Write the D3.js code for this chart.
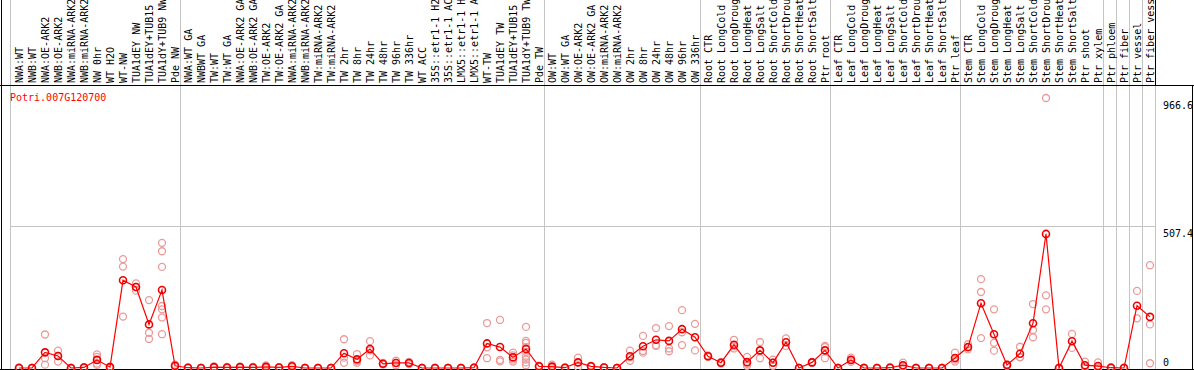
<!DOCTYPE html>
<html>
<head>
<meta charset="utf-8">
<script src="https://cdn.jsdelivr.net/npm/d3@7"></script>
<style>
  body { margin: 0; background: #fff; }
  svg { display: block; }
  text { font-family: "DejaVu Sans Mono", monospace; font-size: 10px; }
</style>
</head>
<body>
<svg width="1194" height="370"></svg>
<script>
// sample names, in plot order
let samples = ["NWA:WT", "NWB:WT", "NWA:OE-ARK2", "NWB:OE-ARK2", "NWA:miRNA-ARK2", "NWB:miRNA-ARK2", "NW 0hr", "WT H2O", "WT-NW", "TUA1dEY NW", "TUA1dEY+TUB15 NW", "TUA1dY+TUB9 NW", "Pde NW",
  "NWA:WT GA", "NWBWT GA", "TW:WT", "TW:WT GA", "NWA:OE-ARK2 GA", "NWB:OE-ARK2 GA", "TW:OE-ARK2", "TW:OE-ARK2 GA", "NWA:miRNA-ARK2 GA", "NWB:miRNA-ARK2 GA", "TW:miRNA-ARK2", "TW:miRNA-ARK2 GA", "TW 2hr", "TW 8hr", "TW 24hr", "TW 48hr", "TW 96hr", "TW 336hr", "WT ACC", "35S::etr1-1 H2O", "35S::etr1-1 ACC", "LMX5::etr1-1 H2O", "LMX5::etr1-1 ACC", "WT-TW", "TUA1dEY TW", "TUA1dEY+TUB15 TW", "TUA1dY+TUB9 TW", "Pde TW",
  "OW:WT", "OW:WT GA", "OW:OE-ARK2", "OW:OE-ARK2 GA", "OW:miRNA-ARK2", "OW:miRNA-ARK2 GA", "OW 2hr", "OW 8hr", "OW 24hr", "OW 48hr", "OW 96hr", "OW 336hr",
  "Root CTR", "Root LongCold", "Root LongDrought", "Root LongHeat", "Root LongSalt", "Root ShortCold", "Root ShortDrought", "Root ShortHeat", "Root ShortSalt", "Ptr root",
  "Leaf CTR", "Leaf LongCold", "Leaf LongDrought", "Leaf LongHeat", "Leaf LongSalt", "Leaf ShortCold", "Leaf ShortDrought", "Leaf ShortHeat", "Leaf ShortSalt", "Ptr leaf",
  "Stem CTR", "Stem LongCold", "Stem LongDrought", "Stem LongHeat", "Stem LongSalt", "Stem ShortCold", "Stem ShortDrought", "Stem ShortHeat", "Stem ShortSalt", "Ptr shoot", "Ptr xylem",
  "Ptr phloem", "Ptr fiber", "Ptr vessel", "Ptr fiber vessel"];

// last sample of each experiment block (separator drawn after it)
let groupEnds = ["Pde NW", "Pde TW", "OW 336hr", "Ptr root", "Ptr leaf", "Ptr xylem", "Ptr phloem", "Ptr fiber", "Ptr vessel", "Ptr fiber vessel"];

let gene = "Potri.007G120700";

// mean expression per sample
let means = [0, 0, 56, 43, 0, 2, 29, 3, 314, 290, 156, 279, 8,
  1, 0, 3, 2, 3, 2, 4, 2, 6, 0, 0, 0, 53, 31, 68, 15, 18, 18, 0, 0, 0, 0, 1, 88, 75, 38, 68, 6,
  5, 1, 20, 6, 2, 0, 42, 78, 101, 97, 139, 110,
  42, 19, 83, 21, 63, 19, 92, 0, 20, 63,
  0, 29, 0, 0, 1, 10, 0, 0, 0, 36,
  75, 232, 121, 11, 51, 160, 480, 0, 96, 10, 7,
  1, 0, 223, 183];

// individual replicates per sample
let replicates = [[0, 2, 0], [0, 0, 0], [120, 35, 12], [62, 43, 23], [0, 0, 0], [4, 1, 0], [49, 40, 11, 16], [5, 3, 1], [390, 363, 184], [303, 277, 290], [243, 126, 104], [448, 418, 362, 222, 210, 181, 121], [12, 8, 4],
  [2, 1, 0], [0, 0, 0], [6, 2, 1], [4, 2, 0], [5, 3, 1], [4, 2, 0], [9, 3, 0], [3, 2, 1], [10, 6, 2], [0, 0, 0], [0, 0, 0], [0, 0, 0], [103, 37, 19], [50, 24, 19], [96, 63, 45], [18, 15, 12], [26, 18, 10], [22, 18, 14], [0, 0, 0], [0, 0, 0], [0, 0, 0], [0, 0, 0], [2, 1, 0], [161, 74, 35], [172, 29, 24], [55, 45, 30, 23], [147, 97, 90, 75, 58, 40, 30, 20, 10], [8, 6, 4],
  [12, 3, 0], [2, 1, 0], [37, 20, 3], [8, 6, 4], [3, 2, 1], [0, 0, 0], [62, 38, 26], [115, 61, 55], [143, 81, 79], [150, 70, 60], [207, 128, 82], [158, 63],
  [45, 42, 40], [22, 19, 16], [101, 78, 70], [40, 15, 8], [93, 61, 35], [30, 19, 8], [106, 79], [0, 0, 0], [22, 20, 18], [79, 75, 35],
  [0, 0, 0], [37, 29, 22], [1, 0, 0], [0, 0, 0], [3, 1, 0], [19, 8, 3], [0, 0, 0], [0, 0, 0], [0, 0, 0], [55, 30, 23],
  [85, 73, 67], [318, 272, 107], [210, 90, 62], [14, 11, 8], [76, 39, 38], [229, 136, 110], [966.6, 260, 210], [0, 0, 0], [122, 72], [23, 5, 2], [20, 1, 0],
  [3, 1, 0], [1, 0, 0], [276, 178], [368, 156, 17]];

let yTicks = [966.6, 507.4, 0];
let gridTicks = [507.4];

let svg = d3.select("svg");
let W = 1194, H = 370;
let labelBottom = 85;

let x = d3.scalePoint().domain(samples).range([19, 1150]);
let y = d3.scaleLinear().domain([0, 966.6]).range([368, 98]);
let plotRight = x(samples[samples.length - 1]) + 5;

// separators between sample blocks
let seps = [x(samples[0]) - 9].concat(groupEnds.map(d => x(d) + 5));
svg.append("g").selectAll("line").data(seps).join("line")
  .attr("x1", d => Math.round(d) + 0.5).attr("x2", d => Math.round(d) + 0.5)
  .attr("y1", 0).attr("y2", H)
  .attr("stroke", "#c4c4c4").attr("stroke-width", 1);

// horizontal grid
svg.append("g").selectAll("line").data(gridTicks).join("line")
  .attr("x1", seps[0]).attr("x2", plotRight)
  .attr("y1", d => Math.round(y(d)) + 0.5).attr("y2", d => Math.round(y(d)) + 0.5)
  .attr("stroke", "#c4c4c4");

// sample labels, rotated
svg.append("g").selectAll("text").data(samples).join("text")
  .attr("transform", d => "translate(" + (x(d) + 3.5) + "," + (labelBottom - 2) + ") rotate(-90)")
  .attr("fill", "#000")
  .text(d => d);

// frame
let frame = svg.append("g").attr("stroke", "#000").attr("stroke-width", 1);
frame.append("line").attr("x1", 0).attr("x2", W).attr("y1", labelBottom + 0.5).attr("y2", labelBottom + 0.5);
frame.append("line").attr("x1", 0).attr("x2", W).attr("y1", H - 0.5).attr("y2", H - 0.5);
frame.append("line").attr("x1", 1.5).attr("x2", 1.5).attr("y1", 0).attr("y2", H);
frame.append("line").attr("x1", W - 1.5).attr("x2", W - 1.5).attr("y1", labelBottom).attr("y2", H);
frame.append("line").attr("x1", Math.round(plotRight) + 0.5).attr("x2", Math.round(plotRight) + 0.5).attr("y1", 0).attr("y2", labelBottom);

// y values on the right
svg.append("g").selectAll("text").data(yTicks).join("text")
  .attr("x", 1163)
  .attr("y", d => d === 0 ? 366 : y(d) + 11)
  .attr("fill", "#000")
  .text(d => d);

// gene name
svg.append("text").attr("x", 10).attr("y", 101).attr("fill", "#ff0000").text(gene);

// replicate points
let reps = [];
samples.forEach((s, i) => replicates[i].forEach(v => reps.push({s: s, v: v})));
svg.append("g").selectAll("circle").data(reps).join("circle")
  .attr("cx", d => x(d.s)).attr("cy", d => y(d.v)).attr("r", 3.5)
  .attr("fill", "none").attr("stroke", "#eb9a9a").attr("stroke-width", 1.3);

// mean line
let meanData = samples.map((s, i) => ({s: s, v: means[i]}));
let line = d3.line().x(d => x(d.s)).y(d => y(d.v));
svg.append("path").datum(meanData)
  .attr("d", line).attr("fill", "none").attr("stroke", "#ff0000").attr("stroke-width", 1.2);

svg.append("g").selectAll("circle").data(meanData).join("circle")
  .attr("cx", d => x(d.s)).attr("cy", d => y(d.v)).attr("r", 3.5)
  .attr("fill", "none").attr("stroke", "#ee0000").attr("stroke-width", 1.6);
</script>
</body>
</html>
